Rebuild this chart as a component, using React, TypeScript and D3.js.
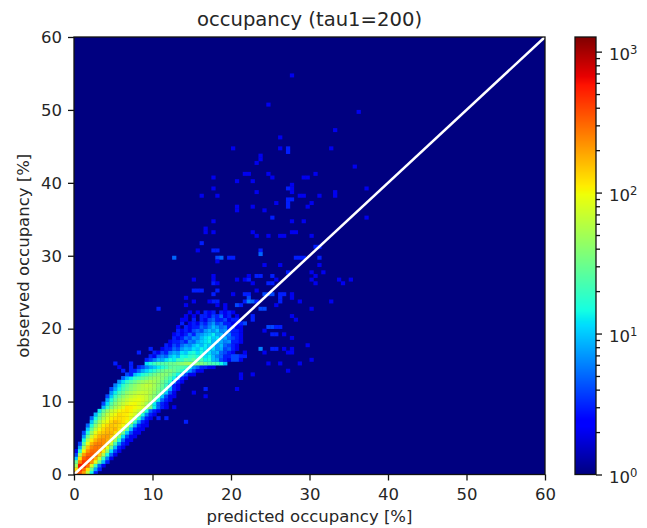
import { useEffect, useRef } from 'react';
import * as d3 from 'd3';

const binSize = 0.5;
const axisTicks = [0, 10, 20, 30, 40, 50, 60];
const colorMajorTicks = [1, 10, 100, 1000];
const colorMinorTicks = [2, 3, 4, 5, 6, 7, 8, 9, 20, 30, 40, 50, 60, 70, 80, 90, 200, 300, 400, 500, 600, 700, 800, 900];
const colorDomain = [1, 1270];

// first x bin of each row of the dense band, row 0 is the bottom one
const bandStarts = [
  0, 0, 0, 0, 0, 0, 0, 1, 1, 2, 2, 2, 3, 3, 4, 4, 5, 6, 7, 7, 8, 8, 9, 9, 10, 11, 12, 13, 15, 16,
  18, 18, 19, 20, 22, 23, 24, 25, 25, 26, 26, 27, 27, 28, 29,
];

// counts per row
const bandCounts = [
  [300, 350, 200, 60, 14, 3],
  [120, 500, 300, 120, 30, 8, 3],
  [50, 600, 500, 300, 80, 20, 5, 2],
  [30, 250, 450, 400, 220, 90, 28, 9, 3],
  [10, 120, 330, 400, 340, 180, 70, 20, 6, 2],
  [4, 50, 200, 320, 350, 280, 150, 55, 16, 5, 2],
  [2, 18, 100, 220, 300, 300, 220, 110, 40, 12, 4, 2],
  [8, 50, 150, 240, 280, 260, 190, 85, 30, 9, 3, 2],
  [4, 26, 90, 170, 240, 260, 230, 150, 65, 22, 7, 3, 2],
  [14, 55, 110, 170, 220, 230, 180, 110, 45, 16, 5, 2, 2],
  [7, 30, 70, 120, 170, 190, 200, 150, 90, 35, 12, 4, 2, 2],
  [4, 16, 45, 90, 130, 150, 170, 170, 125, 75, 30, 10, 4, 2, 2],
  [10, 28, 60, 100, 130, 160, 150, 170, 120, 70, 26, 9, 3, 2, 2],
  [5, 16, 40, 70, 105, 130, 150, 140, 130, 100, 60, 22, 8, 3, 2, 2],
  [10, 25, 50, 80, 100, 130, 160, 140, 120, 95, 55, 20, 7, 3, 2],
  [5, 15, 32, 55, 80, 105, 120, 125, 120, 110, 85, 50, 18, 7, 3, 2],
  [9, 22, 40, 65, 85, 100, 125, 115, 110, 95, 75, 42, 16, 6, 3, 2],
  [13, 28, 45, 65, 80, 100, 110, 120, 105, 85, 65, 38, 15, 5, 3, 2],
  [9, 20, 34, 50, 65, 85, 115, 110, 100, 90, 75, 55, 35, 13, 5, 3, 2],
  [4, 12, 24, 38, 52, 65, 80, 95, 100, 85, 70, 50, 30, 13, 5, 3, 2],
  [8, 16, 28, 42, 52, 65, 78, 85, 90, 80, 65, 48, 30, 13, 5, 3, 2],
  [4, 10, 20, 30, 40, 52, 62, 72, 80, 75, 65, 50, 38, 24, 10, 4, 2, 2],
  [7, 13, 22, 30, 42, 50, 58, 65, 68, 65, 55, 42, 32, 22, 10, 4, 2],
  [4, 8, 14, 22, 30, 38, 45, 52, 58, 60, 55, 48, 36, 26, 18, 8, 3, 2],
  [6, 11, 18, 26, 34, 42, 50, 58, 65, 60, 50, 40, 30, 20, 9, 3, 2],
  [7, 12, 18, 24, 30, 38, 45, 50, 55, 50, 42, 32, 24, 16, 7, 3, 2],
  [5, 9, 13, 18, 22, 28, 34, 40, 45, 45, 38, 30, 22, 14, 6, 3, 2],
  [4, 6, 9, 12, 16, 20, 26, 32, 38, 40, 38, 30, 22, 14, 8, 4, 2, 2],
  [3, 5, 8, 11, 14, 18, 24, 30, 35, 35, 30, 24, 18, 12, 7, 4, 2, 2],
  [3, 4, 6, 8, 10, 13, 16, 20, 26, 28, 26, 24, 20, 12, 7, 5, 3, 3, 2, 2],
  [12, 16, 20, 25, 24, 26, 30, 30, 35, 40, 45, 50, 40, 35, 35, 30, 24, 22, 20, 14, 9],
  [3, 4, 6, 9, 8, 12, 15, 13, 20, 18, 25, 22, 28, 20, 22, 14, 16, 9, 8, 4, 3, 2],
  [3, 2, 5, 6, 5, 9, 12, 9, 15, 14, 18, 20, 16, 18, 12, 14, 9, 6, 5, 3, 3, 2],
  [3, 2, 4, 3, 6, 8, 7, 12, 10, 14, 16, 12, 15, 11, 12, 8, 9, 5, 4, 3, 2],
  [2, 3, 3, 5, 4, 7, 9, 8, 12, 10, 14, 12, 9, 11, 7, 8, 4, 5, 3, 2],
  [3, 2, 4, 3, 5, 7, 6, 9, 12, 9, 13, 10, 12, 7, 9, 5, 4, 3, 2],
  [2, 3, 3, 4, 3, 6, 5, 8, 10, 12, 14, 9, 11, 8, 6, 7, 3, 3, 2],
  [3, 2, 3, 5, 4, 7, 6, 9, 12, 14, 10, 12, 7, 8, 5, 4, 3, 2],
  [2, 3, 2, 3, 5, 3, 6, 7, 9, 10, 13, 8, 9, 5, 6, 3, 3, 2],
  [3, 2, 3, 2, 4, 5, 4, 7, 9, 7, 10, 6, 7, 4, 3, 3, 2],
  [2, 0, 3, 2, 3, 3, 5, 4, 6, 9, 7, 5, 6, 3, 4, 2, 2],
  [3, 0, 2, 3, 2, 4, 3, 5, 7, 4, 5, 3, 3, 2, 2],
  [2, 2, 0, 3, 0, 3, 2, 4, 5, 3, 3, 4, 2, 3, 2],
  [2, 0, 2, 0, 3, 3, 2, 4, 3, 5, 2, 3, 0, 2],
  [2, 0, 2, 0, 3, 2, 3, 0, 3, 2, 3, 2],
];

// isolated cells outside the band: x bin, y bin, count
const scatterCells = [
  [55, 109, 2], [49, 101, 2], [72, 99, 2], [66, 94, 2], [52, 92, 2], [40, 89, 2], [52, 89, 2], [54, 89, 3],
  [54, 88, 3], [65, 89, 2], [47, 87, 2], [47, 86, 2], [46, 85, 2], [71, 84, 2], [43, 82, 2], [44, 82, 2],
  [49, 82, 2], [61, 82, 2], [35, 81, 2], [50, 81, 2], [58, 81, 2], [59, 81, 2], [41, 80, 2], [45, 80, 2],
  [55, 79, 2], [55, 78, 2], [55, 77, 2], [35, 78, 2], [54, 78, 3], [74, 78, 2], [46, 77, 2], [66, 77, 2],
  [66, 76, 2], [32, 76, 2], [36, 76, 2], [54, 75, 3], [55, 75, 3], [57, 76, 2], [58, 76, 2], [62, 76, 2],
  [51, 74, 2], [54, 74, 3], [54, 73, 3], [60, 74, 2], [59, 73, 2], [41, 73, 2], [41, 72, 2], [45, 73, 2],
  [48, 72, 2], [50, 70, 3], [74, 70, 2], [55, 69, 2], [58, 69, 2], [35, 69, 2], [33, 67, 2], [33, 66, 2],
  [35, 66, 2], [45, 66, 2], [46, 65, 2], [49, 65, 2], [52, 65, 2], [53, 65, 2], [55, 66, 2], [56, 66, 2],
  [60, 65, 2], [32, 63, 3], [61, 62, 3], [62, 62, 3], [31, 61, 2], [35, 61, 3], [36, 61, 3], [47, 61, 3],
  [47, 60, 5], [36, 59, 4], [37, 59, 5], [39, 59, 3], [40, 59, 3], [36, 58, 2], [56, 59, 3], [57, 59, 3],
  [58, 59, 3], [62, 59, 3], [48, 57, 2], [52, 57, 2], [54, 55, 3], [62, 57, 2], [63, 55, 2], [60, 55, 2],
  [30, 53, 2], [35, 54, 2], [35, 53, 2], [41, 53, 2], [43, 53, 2], [44, 53, 3], [44, 54, 2], [46, 54, 3],
  [47, 54, 3], [50, 54, 3], [51, 53, 2], [61, 54, 2], [60, 53, 2], [61, 52, 2], [67, 53, 2], [68, 52, 2],
  [70, 53, 2], [30, 50, 3], [31, 50, 3], [32, 50, 3], [35, 52, 3], [36, 52, 2], [45, 52, 2], [49, 52, 3],
  [50, 52, 3], [36, 50, 3], [46, 50, 2], [40, 49, 2], [43, 49, 3], [44, 49, 3], [48, 49, 4], [49, 49, 4],
  [50, 49, 4], [52, 49, 3], [53, 49, 3], [55, 49, 2], [35, 49, 3], [38, 46, 2], [38, 45, 2], [41, 46, 4],
  [42, 46, 3], [43, 47, 3], [44, 48, 4], [44, 47, 6], [45, 47, 5], [46, 47, 3], [47, 45, 4], [48, 45, 4],
  [51, 46, 2], [52, 48, 3], [52, 47, 3], [55, 48, 2], [57, 47, 2], [65, 47, 2], [60, 45, 2], [55, 43, 2],
  [56, 42, 2], [45, 43, 3], [45, 42, 3], [43, 41, 4], [42, 41, 3], [41, 42, 3], [49, 40, 4], [50, 40, 4],
  [51, 40, 3], [52, 40, 3], [48, 39, 2], [50, 38, 3], [51, 38, 3], [53, 38, 2], [55, 37, 2], [59, 35, 2],
  [50, 34, 3], [51, 34, 3], [53, 34, 2], [47, 34, 6], [55, 34, 2], [55, 33, 2], [48, 33, 2], [54, 33, 2],
  [60, 31, 2], [49, 30, 2], [52, 30, 2], [57, 30, 2], [54, 28, 2], [42, 27, 2], [42, 26, 2], [45, 27, 2],
  [41, 23, 2], [40, 32, 4], [41, 32, 4], [42, 32, 3], [43, 32, 3], [40, 31, 4], [41, 31, 4], [42, 31, 2],
  [43, 33, 2], [42, 36, 2], [25, 59, 5], [21, 45, 3], [16, 33, 3], [19, 34, 3], [28, 48, 2], [30, 47, 2],
  [28, 46, 2], [35, 47, 3], [34, 47, 2], [36, 47, 3], [36, 46, 2], [10, 30, 3], [12, 28, 3], [11, 29, 2],
  [14, 30, 3], [14, 29, 3], [14, 28, 3], [14, 27, 3], [21, 15, 3], [23, 15, 3], [28, 14, 3], [23, 18, 2],
  [25, 18, 2], [33, 23, 3], [33, 21, 2], [30, 22, 2],
];

const lineEnds = [0, 60];

const jetR = d3.scaleLinear().domain([0, 0.35, 0.66, 0.89, 1]).range([0, 0, 1, 1, 0.5]);
const jetG = d3.scaleLinear().domain([0, 0.125, 0.375, 0.64, 0.91, 1]).range([0, 0, 1, 1, 0, 0]);
const jetB = d3.scaleLinear().domain([0, 0.11, 0.34, 0.65, 1]).range([0.5, 1, 1, 0, 0]);
const jet = (t: number) =>
  `rgb(${Math.round(jetR(t) * 255)},${Math.round(jetG(t) * 255)},${Math.round(jetB(t) * 255)})`;

const fontFamily = '"DejaVu Sans", sans-serif';

const App = () => {
  const svgRef = useRef<SVGSVGElement>(null);

  useEffect(() => {
    if (!svgRef.current) return;
    const svg = d3.select(svgRef.current);
    svg.selectAll('*').remove();

    const left = 74;
    const right = 545;
    const top = 37;
    const bottom = 474.5;
    const barLeft = 575;
    const barRight = 596;

    const x = d3.scaleLinear().domain([0, 60]).range([left, right]);
    const y = d3.scaleLinear().domain([0, 60]).range([bottom, top]);
    const colorPos = d3.scaleLog().domain(colorDomain).range([0, 1]).clamp(true);
    const barY = d3.scaleLog().domain(colorDomain).range([bottom, top]);

    svg.append('rect')
      .attr('x', left).attr('y', top)
      .attr('width', right - left).attr('height', bottom - top)
      .attr('fill', jet(0));

    const cells: number[][] = [];
    bandCounts.forEach((row, j) => {
      row.forEach((count, i) => {
        if (count > 0) cells.push([bandStarts[j] + i, j, count]);
      });
    });
    scatterCells.forEach(c => cells.push(c));

    svg.append('g')
      .selectAll('rect')
      .data(cells)
      .enter()
      .append('rect')
      .attr('x', d => x(d[0] * binSize))
      .attr('y', d => y((d[1] + 1) * binSize))
      .attr('width', x(binSize) - x(0) + 0.3)
      .attr('height', y(0) - y(binSize) + 0.3)
      .attr('fill', d => jet(colorPos(d[2])));

    svg.append('line')
      .attr('x1', x(lineEnds[0])).attr('y1', y(lineEnds[0]))
      .attr('x2', x(lineEnds[1])).attr('y2', y(lineEnds[1]))
      .attr('stroke', '#fff')
      .attr('stroke-width', 2.5);

    svg.append('rect')
      .attr('x', left).attr('y', top)
      .attr('width', right - left).attr('height', bottom - top)
      .attr('fill', 'none')
      .attr('stroke', '#111')
      .attr('stroke-width', 1.3);

    const styleAxis = (g: any) => {
      g.attr('font-family', fontFamily).attr('font-size', 16.5);
      g.select('.domain').remove();
      g.selectAll('.tick line').attr('stroke', '#111').attr('stroke-width', 1.3);
      g.selectAll('.tick text').attr('fill', '#262626');
    };

    svg.append('g')
      .attr('transform', `translate(0,${bottom})`)
      .call(d3.axisBottom(x).tickValues(axisTicks).tickSizeOuter(0).tickSize(6).tickPadding(8))
      .call(styleAxis);

    svg.append('g')
      .attr('transform', `translate(${left},0)`)
      .call(d3.axisLeft(y).tickValues(axisTicks).tickSizeOuter(0).tickSize(6).tickPadding(6))
      .call(styleAxis);

    // colorbar, one strip per pixel row
    const barRows = d3.range(top, bottom);
    svg.append('g')
      .attr('shape-rendering', 'crispEdges')
      .selectAll('rect')
      .data(barRows)
      .enter()
      .append('rect')
      .attr('x', barLeft)
      .attr('y', d => d)
      .attr('width', barRight - barLeft)
      .attr('height', 1)
      .attr('fill', d => jet((bottom - d - 0.5) / (bottom - top)));

    svg.append('rect')
      .attr('x', barLeft).attr('y', top)
      .attr('width', barRight - barLeft).attr('height', bottom - top)
      .attr('fill', 'none')
      .attr('stroke', '#111')
      .attr('stroke-width', 1.3);

    svg.append('g')
      .attr('transform', `translate(${barRight},0)`)
      .call(d3.axisRight(barY).tickValues(colorMinorTicks).tickSizeOuter(0).tickSize(4).tickFormat(() => ''))
      .call(styleAxis);

    const majorAxis = svg.append('g')
      .attr('transform', `translate(${barRight},0)`)
      .call(d3.axisRight(barY).tickValues(colorMajorTicks).tickSizeOuter(0).tickSize(6).tickFormat(() => ''))
      .call(styleAxis);

    majorAxis.selectAll('.tick text').each(function (d: any) {
      const text = d3.select(this);
      text.attr('x', 13).attr('dy', '0.48em').attr('text-anchor', 'start');
      text.append('tspan').text('10');
      text.append('tspan')
        .attr('dy', -6)
        .attr('font-size', 11.6)
        .text(String(Math.round(Math.log10(d))));
    });

    const addLabel = (label: string, px: number, py: number, size: number, rotate = false) => {
      svg.append('text')
        .attr('transform', `translate(${px},${py})${rotate ? ' rotate(-90)' : ''}`)
        .attr('text-anchor', 'middle')
        .attr('font-family', fontFamily)
        .attr('font-size', size)
        .attr('fill', '#262626')
        .text(label);
    };

    addLabel('occupancy (tau1=200)', (left + right) / 2, 26, 19.6);
    addLabel('predicted occupancy [%]', (left + right) / 2, 522, 16.5);
    addLabel('observed occupancy [%]', 29, (top + bottom) / 2, 16.5, true);
  }, []);

  return (
    <svg
      ref={svgRef}
      width={647}
      height={528}
      style={{ position: 'absolute', left: 0, top: 0, background: '#fff' }}
    />
  );
};

export default App;
